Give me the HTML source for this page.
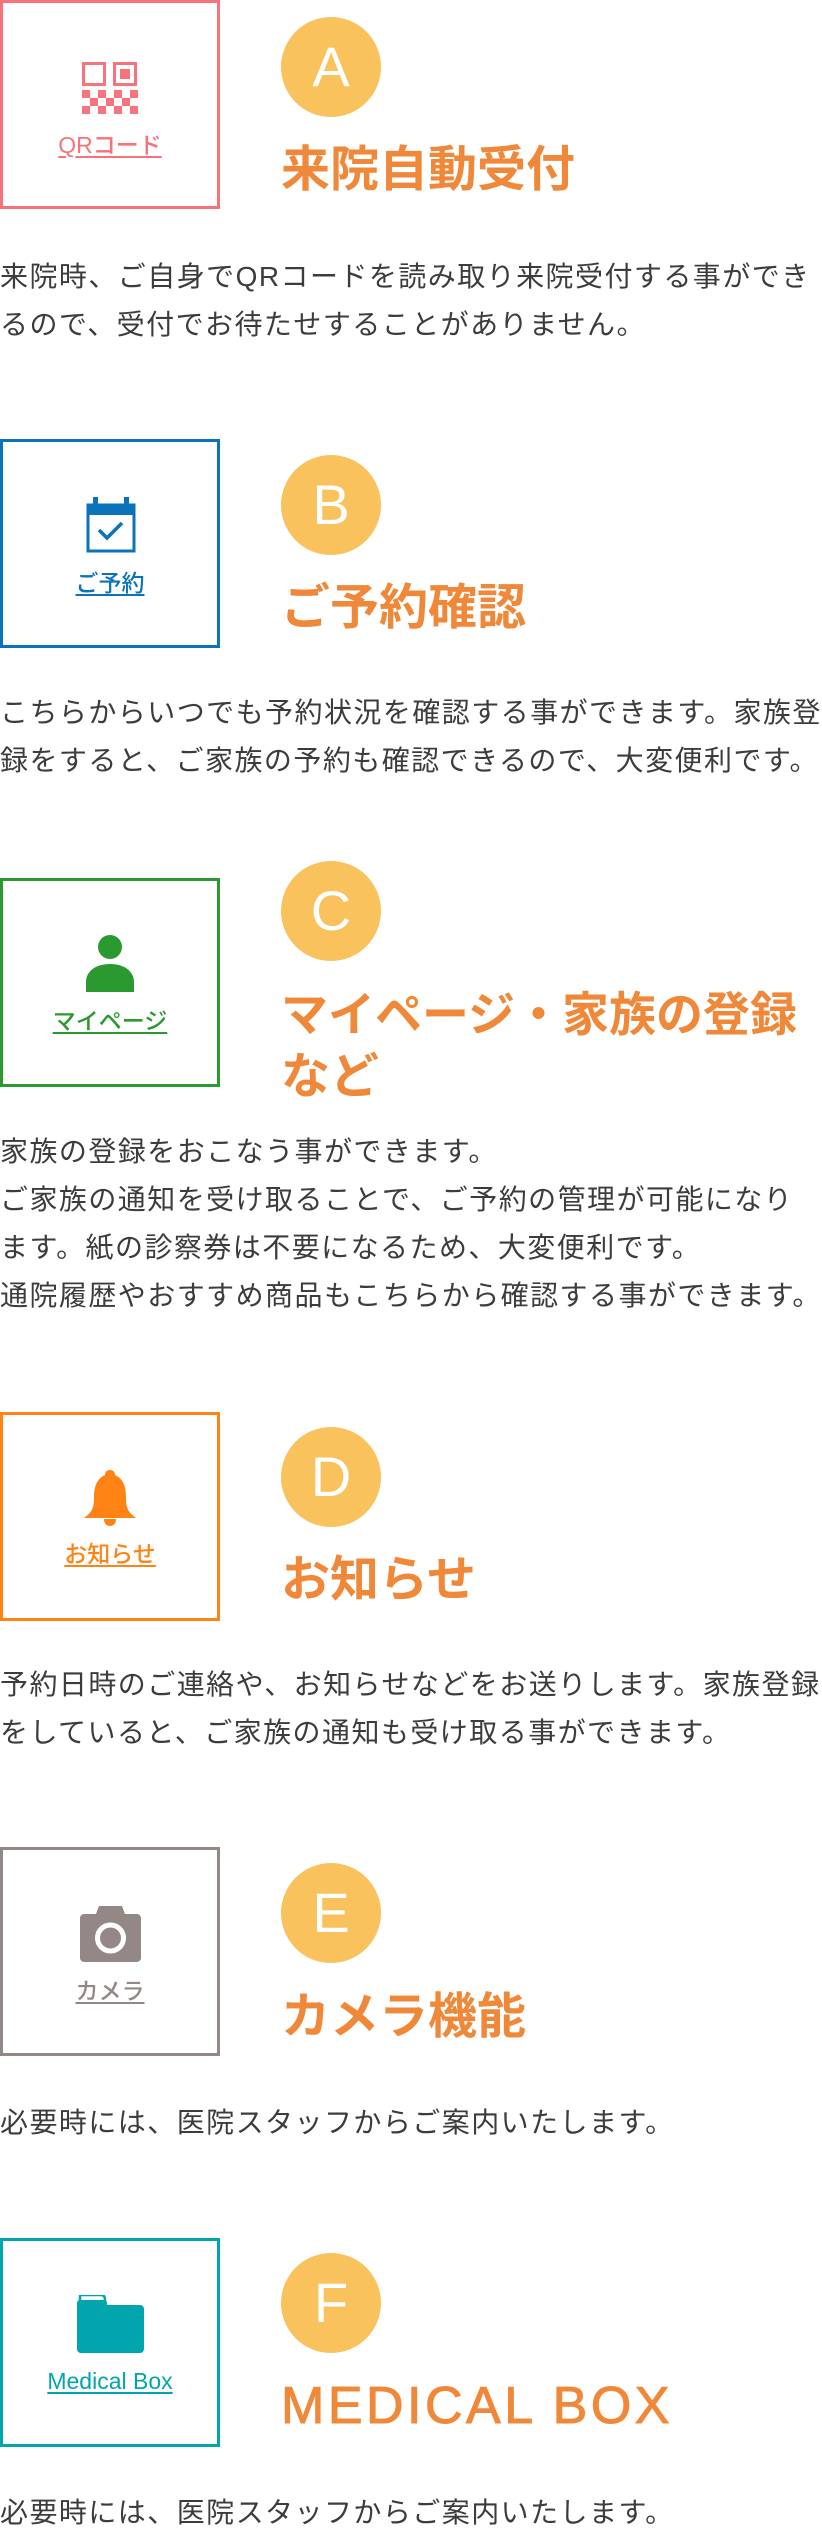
<!DOCTYPE html>
<html><head><meta charset="utf-8">
<style>
html,body{margin:0;padding:0;background:#fff;}
body{width:822px;height:2526px;position:relative;overflow:hidden;font-family:"Liberation Sans","Noto Sans CJK JP",sans-serif;}
.box{position:absolute;left:0;width:214px;height:203px;border:3px solid;box-sizing:content-box;}
.lbl{position:absolute;left:0;width:220px;text-align:center;font-size:23px;font-weight:500;line-height:28px;text-decoration:underline;text-underline-offset:3px;white-space:nowrap;}
.circ{position:absolute;left:281px;width:100px;height:100px;border-radius:50%;background:#f9c25c;color:#fff;font-size:56px;line-height:100px;text-align:center;font-family:"Liberation Sans",sans-serif;}
.ttl{position:absolute;left:281px;color:#f0883a;font-weight:bold;font-size:49px;line-height:60px;white-space:nowrap;}
.txt{position:absolute;left:0;color:#3c3c3c;font-size:28px;line-height:48px;letter-spacing:1.45px;white-space:nowrap;}
svg{position:absolute;}
</style></head><body>

<!-- A -->
<div class="box" style="top:0;border-color:#f8727c"></div>
<svg style="left:82px;top:62px" width="56" height="52" viewBox="0 0 56 52">
<rect x="1.5" y="1.5" width="21" height="21" fill="none" stroke="#f8727c" stroke-width="3"/>
<rect x="32.5" y="1.5" width="21" height="21" fill="none" stroke="#f8727c" stroke-width="3"/>
<rect x="38" y="7" width="10" height="10" fill="#f8727c"/>
<g fill="#f8727c">
<rect x="0" y="28" width="8" height="8"/><rect x="16" y="28" width="8" height="8"/><rect x="32" y="28" width="8" height="8"/><rect x="48" y="28" width="8" height="8"/>
<rect x="8" y="36" width="8" height="8"/><rect x="24" y="36" width="8" height="8"/><rect x="40" y="36" width="8" height="8"/>
<rect x="0" y="44" width="8" height="8"/><rect x="16" y="44" width="8" height="8"/><rect x="32" y="44" width="8" height="8"/><rect x="48" y="44" width="8" height="8"/>
</g></svg>
<div class="lbl" style="top:131px;color:#f8727c">QRコード</div>
<div class="circ" style="top:17px">A</div>
<div class="ttl" style="top:140px">来院自動受付</div>
<div class="txt" style="top:253px">来院時、ご自身でQRコードを読み取り来院受付する事ができ<br>るので、受付でお待たせすることがありません。</div>

<!-- B -->
<div class="box" style="top:439px;border-color:#0a73b9"></div>
<svg style="left:86px;top:497px" width="50" height="56" viewBox="0 0 50 56">
<rect x="2" y="8" width="46" height="46" fill="#fff" stroke="#0a73b9" stroke-width="3"/>
<rect x="2" y="8" width="46" height="10" fill="#0a73b9"/>
<rect x="7" y="0" width="5" height="12" fill="#0a73b9"/><rect x="38" y="0" width="5" height="12" fill="#0a73b9"/>
<polyline points="13,33 21,41 36,26" fill="none" stroke="#0a73b9" stroke-width="3.5"/>
</svg>
<div class="lbl" style="top:569px;color:#0a73b9">ご予約</div>
<div class="circ" style="top:455px">B</div>
<div class="ttl" style="top:578px">ご予約確認</div>
<div class="txt" style="top:689px">こちらからいつでも予約状況を確認する事ができます。家族登<br>録をすると、ご家族の予約も確認できるので、大変便利です。</div>

<!-- C -->
<div class="box" style="top:878px;border-color:#2a9a30"></div>
<svg style="left:86px;top:935px" width="48" height="57" viewBox="0 0 48 57">
<ellipse cx="24" cy="12" rx="12" ry="12" fill="#2a9a30"/>
<path d="M0 57 V47 C0 36 10 29 24 29 C38 29 48 36 48 47 V57 Z" fill="#2a9a30"/>
</svg>
<div class="lbl" style="top:1007px;color:#2a9a30">マイページ</div>
<div class="circ" style="top:861px">C</div>
<div class="ttl" style="top:985px;font-size:47px">マイページ・家族の登録</div>
<div class="ttl" style="top:1047px">など</div>
<div class="txt" style="top:1128px">家族の登録をおこなう事ができます。<br>ご家族の通知を受け取ることで、ご予約の管理が可能になり<br>ます。紙の診察券は不要になるため、大変便利です。<br>通院履歴やおすすめ商品もこちらから確認する事ができます。</div>

<!-- D -->
<div class="box" style="top:1412px;border-color:#ff8214"></div>
<svg style="left:84px;top:1470px" width="52" height="56" viewBox="0 0 52 56">
<path d="M26 0 C30 0 31 3 31 5 C40 9 42 18 42 28 C42 38 44 42 52 48 L0 48 C8 42 10 38 10 28 C10 18 12 9 21 5 C21 3 22 0 26 0 Z" fill="#ff8214"/>
<path d="M20 49 H32 C32 54 29 56 26 56 C23 56 20 54 20 49 Z" fill="#ff8214"/>
</svg>
<div class="lbl" style="top:1540px;color:#ff8214">お知らせ</div>
<div class="circ" style="top:1427px">D</div>
<div class="ttl" style="top:1550px">お知らせ</div>
<div class="txt" style="top:1661px">予約日時のご連絡や、お知らせなどをお送りします。家族登録<br>をしていると、ご家族の通知も受け取る事ができます。</div>

<!-- E -->
<div class="box" style="top:1847px;border-color:#948886"></div>
<svg style="left:80px;top:1906px" width="61" height="56" viewBox="0 0 61 56">
<path d="M19 0 H42 L45 8 H57 C59 8 61 10 61 12 V52 C61 54 59 56 57 56 H4 C2 56 0 54 0 52 V12 C0 10 2 8 4 8 H16 Z" fill="#948886"/>
<circle cx="30.5" cy="32" r="13" fill="none" stroke="#fff" stroke-width="5"/>
</svg>
<div class="lbl" style="top:1977px;color:#948886">カメラ</div>
<div class="circ" style="top:1863px">E</div>
<div class="ttl" style="top:1987px">カメラ機能</div>
<div class="txt" style="top:2099px">必要時には、医院スタッフからご案内いたします。</div>

<!-- F -->
<div class="box" style="top:2238px;border-color:#00a5ad"></div>
<svg style="left:77px;top:2295px" width="67" height="58" viewBox="0 0 67 58">
<path d="M3 0 H24 C27 0 28 2 28 5 V10 H3 Z" fill="none" stroke="#00a5ad" stroke-width="2.5"/>
<rect x="0" y="10" width="67" height="48" rx="4" fill="#00a5ad"/>
<rect x="0" y="5" width="30" height="10" rx="3" fill="#00a5ad"/>
</svg>
<div class="lbl" style="top:2367px;color:#00a5ad">Medical Box</div>
<div class="circ" style="top:2253px">F</div>
<div class="ttl" style="top:2376px;font-weight:normal;font-family:'Liberation Sans',sans-serif;font-size:52px;letter-spacing:3.5px;-webkit-text-stroke:1px #f0883a">MEDICAL BOX</div>
<div class="txt" style="top:2489px">必要時には、医院スタッフからご案内いたします。</div>

</body></html>
